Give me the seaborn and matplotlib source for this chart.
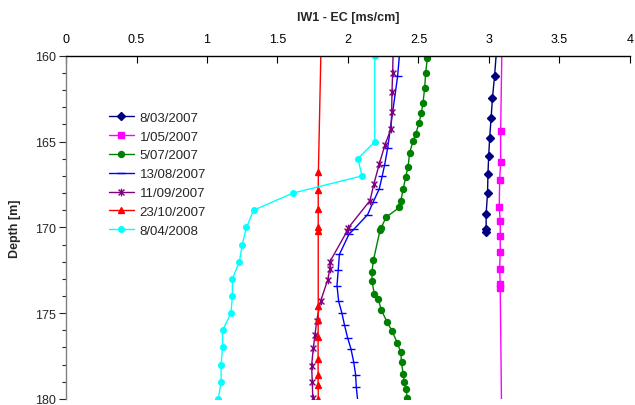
import numpy as np
import pandas as pd
import matplotlib
matplotlib.use("Agg")
import matplotlib.pyplot as plt
from matplotlib.path import Path
from matplotlib.ticker import MultipleLocator
import seaborn as sns

# EC profiles in borehole IW1: depth [m] and electrical conductivity [ms/cm]
dates = ["8/03/2007", "1/05/2007", "5/07/2007", "13/08/2007",
         "11/09/2007", "23/10/2007", "8/04/2008"]

depth_0803 = [159.0, 161.15, 162.45, 163.65, 164.8, 165.85, 166.9, 168.0, 169.2, 170.1, 170.25]
ec_0803 = [3.06, 3.04, 3.025, 3.015, 3.005, 2.998, 2.993, 2.99, 2.98, 2.98, 2.98]

depth_0105 = [159.0, 164.4, 166.2, 167.25, 168.8, 169.6, 170.5, 171.45, 172.4, 173.3, 173.55, 181.0]
ec_0105 = [3.093, 3.083, 3.083, 3.076, 3.073, 3.08, 3.08, 3.08, 3.076, 3.08, 3.08, 3.09]

depth_0507 = [160.13, 161.0, 161.87, 162.76, 163.34, 163.9, 164.57, 164.97, 165.67, 166.47,
              167.07, 167.76, 168.48, 168.84, 169.41, 170.05, 170.18, 171.93, 172.6, 173.14,
              173.88, 174.2, 174.8, 175.5, 176.02, 176.75, 177.28, 177.87, 178.54, 179.03,
              179.45, 179.94]
ec_0507 = [2.563, 2.551, 2.544, 2.532, 2.52, 2.504, 2.48, 2.461, 2.437, 2.426,
           2.409, 2.392, 2.374, 2.364, 2.27, 2.234, 2.227, 2.18, 2.17, 2.17,
           2.187, 2.215, 2.236, 2.276, 2.311, 2.351, 2.374, 2.38, 2.391, 2.4,
           2.412, 2.42]

depth_1308 = [159.0, 161.2, 165.4, 166.36, 167.0, 167.75, 168.5, 169.25, 170.1, 170.4,
              171.58, 172.48, 173.39, 174.32, 175.0, 175.72, 176.46, 177.08, 177.82,
              178.58, 179.32, 180.18]
ec_1308 = [2.375, 2.352, 2.281, 2.26, 2.243, 2.222, 2.18, 2.14, 2.043, 2.007,
           1.939, 1.931, 1.922, 1.934, 1.957, 1.976, 1.998, 2.021, 2.04,
           2.054, 2.059, 2.07]

depth_1109 = [159.0, 161.0, 162.1, 163.3, 164.26, 165.2, 166.3, 167.46, 168.44, 170.05,
              170.2, 172.0, 172.4, 173.06, 174.3, 175.43, 176.27, 177.05, 178.06,
              179.03, 179.96]
ec_1109 = [2.322, 2.317, 2.312, 2.31, 2.305, 2.262, 2.222, 2.184, 2.156, 2.0,
           1.995, 1.872, 1.872, 1.856, 1.806, 1.778, 1.766, 1.754, 1.742,
           1.747, 1.75]

depth_2310 = [159.0, 166.8, 167.85, 168.9, 170.0, 170.2, 174.6, 175.4, 176.4, 177.7,
              178.6, 179.2, 180.0]
ec_2310 = [1.81, 1.79, 1.789, 1.789, 1.789, 1.789, 1.789, 1.789, 1.788, 1.788,
           1.788, 1.788, 1.79]

depth_0804 = [160.0, 165.0, 166.0, 167.0, 168.0, 169.0, 170.0, 171.0, 172.0, 173.0,
              174.0, 175.0, 176.0, 177.0, 178.0, 179.0, 180.0]
ec_0804 = [2.19, 2.19, 2.07, 2.10, 1.61, 1.33, 1.28, 1.25, 1.23, 1.18,
           1.18, 1.17, 1.11, 1.11, 1.10, 1.10, 1.08]

depths = [depth_0803, depth_0105, depth_0507, depth_1308, depth_1109, depth_2310, depth_0804]
ecs = [ec_0803, ec_0105, ec_0507, ec_1308, ec_1109, ec_2310, ec_0804]

colors = ["#000080", "#FF00FF", "#008000", "#0000FF", "#800080", "#FF0000", "#00FFFF"]

# asterisk-style marker: an "x" crossed by a vertical bar
star_path = Path([(-1, -1), (1, 1), (-1, 1), (1, -1), (0, -1.3), (0, 1.3)],
                 [Path.MOVETO, Path.LINETO, Path.MOVETO, Path.LINETO, Path.MOVETO, Path.LINETO])
markers = ["D", "s", "o", "_", star_path, "^", "o"]
msizes = [3.6, 4.3, 4.3, 6, 5.5, 5, 4.0]

sns.set_style("white")
plt.rcParams["font.family"] = ["Liberation Sans", "DejaVu Sans"]

fig = plt.figure(figsize=(6.35, 4.06), dpi=100)
ax = fig.add_axes([0.104, 0.015, 0.888, 0.845])

for date, d, v, c, m, ms in zip(dates, depths, ecs, colors, markers, msizes):
    df = pd.DataFrame({"ec": v, "depth": d})
    sns.lineplot(data=df, x="ec", y="depth", sort=False, estimator=None, ax=ax,
                 color=c, marker=m, markersize=ms, markeredgecolor=c,
                 markerfacecolor=c, markeredgewidth=1.0, linewidth=1.0,
                 label=date)

ax.set_xlim(0, 4)
ax.set_ylim(180, 160)
ax.set_xticks([0, 0.5, 1, 1.5, 2, 2.5, 3, 3.5, 4])
ax.set_xticklabels(["0", "0.5", "1", "1.5", "2", "2.5", "3", "3.5", "4"])
ax.yaxis.set_major_locator(MultipleLocator(5))
ax.yaxis.set_minor_locator(MultipleLocator(1))

ax.xaxis.tick_top()
ax.xaxis.set_label_position("top")
ax.tick_params(axis="x", which="major", direction="in", length=5, width=0.8,
               labelsize=9, pad=8, top=True, bottom=False, colors="black")
ax.tick_params(axis="y", which="major", direction="out", length=5, width=0.8,
               labelsize=9, pad=2, left=True)
ax.tick_params(axis="y", which="minor", direction="out", length=3, width=0.8, left=True)

for side in ["right", "bottom"]:
    ax.spines[side].set_visible(False)
for side in ["left", "top"]:
    ax.spines[side].set_visible(True)
    ax.spines[side].set_color("black")
    ax.spines[side].set_linewidth(1.0)
ax.spines["left"].set_color("#808080")

ax.set_xlabel("IW1 - EC [ms/cm]", fontsize=9, fontweight="bold", labelpad=9)
ax.set_ylabel("Depth [m]", fontsize=9, fontweight="bold", labelpad=10)
ax.grid(False)

leg = ax.legend(loc="upper left", bbox_to_anchor=(0.066, 0.853), frameon=False,
                fontsize=9.5, handlelength=1.9, handletextpad=0.45,
                labelspacing=0.5, borderaxespad=0)

fig.savefig("out.png", dpi=100)
